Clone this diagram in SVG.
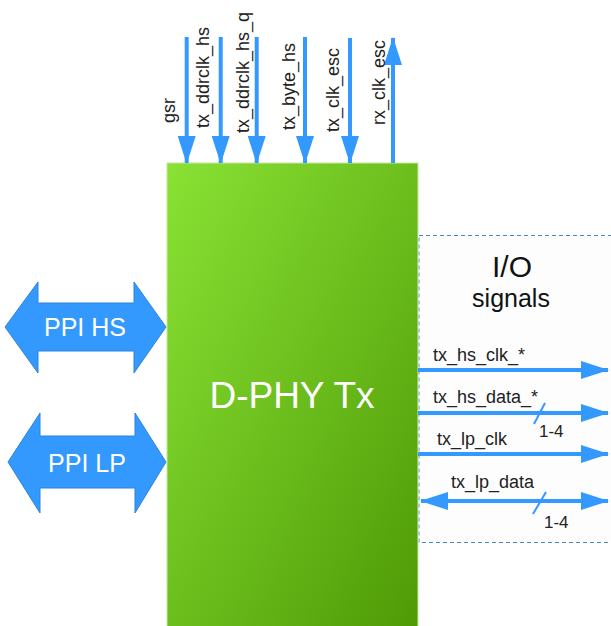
<svg xmlns="http://www.w3.org/2000/svg" width="611" height="626" viewBox="0 0 611 626">
  <defs>
    <linearGradient id="greenFill" x1="0" y1="0" x2="1" y2="1">
      <stop offset="0" stop-color="#8ae234"/>
      <stop offset="1" stop-color="#4e9a06"/>
    </linearGradient>
    <marker id="head" markerUnits="userSpaceOnUse" markerWidth="28" markerHeight="18" viewBox="0 0 28 18" refX="27" refY="9" orient="auto-start-reverse">
      <path d="M0,0 L28,9 L0,18 z" fill="#3399ff"/>
    </marker>
    <style>
      .sig { stroke: #3399ff; stroke-width: 4; fill: none; }
      .lbl { font-family: "Liberation Sans", Arial, sans-serif; font-size: 18px; fill: #222; }
      .num { font-family: "Liberation Sans", Arial, sans-serif; font-size: 17px; fill: #222; }
      .ppi { fill: #3399ff; stroke: #2d84dc; stroke-width: 1; }
      .ppiText { font-family: "Liberation Sans", Arial, sans-serif; font-size: 25px; fill: #ffffff; text-anchor: middle; }
      .slash { stroke: #3399ff; stroke-width: 2; }
    </style>
  </defs>

  <rect width="611" height="626" fill="#ffffff"/>

  <!-- I/O signal area -->
  <g id="io_area">
    <rect x="419" y="235.5" width="200" height="307" fill="#fdfdfd" stroke="#4a86c8" stroke-width="1" stroke-dasharray="4,3"/>
    <text x="512" y="277" font-family="Liberation Sans, Arial, sans-serif" font-size="30" fill="#111" text-anchor="middle">I/O</text>
    <text x="511" y="307" font-family="Liberation Sans, Arial, sans-serif" font-size="25" fill="#111" text-anchor="middle">signals</text>
  </g>

  <!-- main block -->
  <g id="dphy_tx">
    <rect x="167" y="163" width="251" height="470" fill="url(#greenFill)" stroke="#c6e8a4" stroke-width="1"/>
    <text x="292" y="408" font-family="Liberation Sans, Arial, sans-serif" font-size="37" fill="#ffffff" text-anchor="middle">D-PHY Tx</text>
  </g>

  <!-- PPI interfaces -->
  <g id="ppi_hs">
    <polygon class="ppi" points="5,327 38,282 38,303 134,303 134,282 166,327 134,373 134,351 38,351 38,373"/>
    <text class="ppiText" x="85" y="336">PPI HS</text>
  </g>
  <g id="ppi_lp">
    <polygon class="ppi" points="8,462 40,413 40,436 135,436 135,413 166,462 135,513 135,488 40,488 40,513"/>
    <text class="ppiText" x="87" y="472">PPI LP</text>
  </g>

  <!-- signal connectors -->
  <g id="connectors">
    <!-- clock / reset inputs from the top -->
    <line class="sig" x1="186.7" y1="37" x2="186.7" y2="163" marker-end="url(#head)"/>
    <line class="sig" x1="220.7" y1="37" x2="220.7" y2="163" marker-end="url(#head)"/>
    <line class="sig" x1="256.7" y1="37" x2="256.7" y2="163" marker-end="url(#head)"/>
    <line class="sig" x1="305" y1="37" x2="305" y2="163" marker-end="url(#head)"/>
    <line class="sig" x1="350" y1="38" x2="350" y2="163" marker-end="url(#head)"/>
    <line class="sig" x1="393" y1="163" x2="393" y2="38" marker-end="url(#head)"/>

    <!-- outputs to the I/O pins -->
    <line class="sig" x1="418" y1="370" x2="608" y2="370" marker-end="url(#head)"/>
    <line class="sig" x1="418" y1="413" x2="608" y2="413" marker-end="url(#head)"/>
    <line class="sig" x1="418" y1="454" x2="608" y2="454" marker-end="url(#head)"/>
    <line class="sig" x1="421" y1="501" x2="608" y2="501" marker-start="url(#head)" marker-end="url(#head)"/>

    <!-- bus width ticks -->
    <line class="slash" x1="534" y1="424" x2="545" y2="403"/>
    <line class="slash" x1="533" y1="514" x2="546" y2="492"/>
  </g>

  <!-- signal names -->
  <g id="labels">
    <text class="lbl" transform="translate(174.5,123) rotate(-90)">gsr</text>
    <text class="lbl" transform="translate(209,128) rotate(-90)">tx_ddrclk_hs</text>
    <text class="lbl" transform="translate(249,133) rotate(-90)">tx_ddrclk_hs_q</text>
    <text class="lbl" transform="translate(295,130) rotate(-90)">tx_byte_hs</text>
    <text class="lbl" transform="translate(339,132) rotate(-90)">tx_clk_esc</text>
    <text class="lbl" transform="translate(385,125) rotate(-90)">rx_clk_esc</text>

    <text class="lbl" x="433" y="361">tx_hs_clk_*</text>
    <text class="lbl" x="433" y="403">tx_hs_data_*</text>
    <text class="num" x="539" y="437">1-4</text>
    <text class="lbl" x="437" y="445">tx_lp_clk</text>
    <text class="lbl" x="451" y="488">tx_lp_data</text>
    <text class="num" x="544" y="528">1-4</text>
  </g>
</svg>
